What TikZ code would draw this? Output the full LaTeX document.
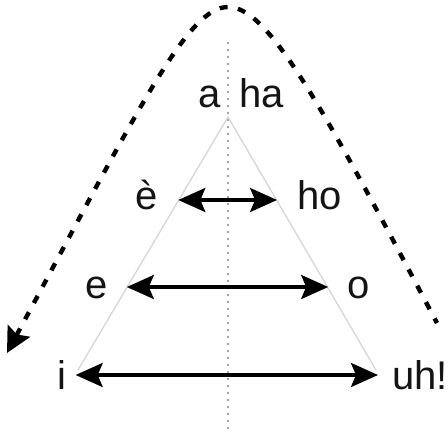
\documentclass[tikz,border=0pt]{standalone}
\usepackage{fontspec}
\setmainfont{Liberation Sans}
\usetikzlibrary{arrows.meta,calc}
\begin{document}
\begin{tikzpicture}[x=1pt,y=-1pt,
  lbl/.style={inner sep=0pt,anchor=base,text=black!92,font=\fontsize{40}{40}\selectfont},
  dbl/.style={line width=3.4pt,{Stealth[length=27pt,width=24pt,inset=5pt]}-{Stealth[length=27pt,width=24pt,inset=5pt]}},
  tri/.style={draw=black!16,line width=1.3pt},
  axis/.style={draw=black!35,line width=2.4pt,dash pattern=on 2.4pt off 4.6pt},
  bigcurve/.style={line width=4.4pt,dash pattern=on 8pt off 10.5pt,{Stealth[length=25pt,width=25pt,inset=4pt]}-}]
\useasboundingbox (0,0) rectangle (448,432);
% axis
\coordinate (axtop) at (228,42);
\coordinate (axbot) at (228,432);
\draw[axis] (axtop) -- (axbot);
% triangle
\coordinate (apex) at (228,117);
\coordinate (bl) at (78,370);
\coordinate (br) at (376,370);
\draw[tri] (bl) -- (apex) -- (br);
% labels
\node[lbl] (a) at (209.5,107) {a};
\node[lbl] (ha) at (261.5,107) {ha};
\node[lbl] (eg) at (147,209) {è};
\node[lbl] (ho) at (319.5,209) {ho};
\node[lbl] (e) at (96.5,298) {e};
\node[lbl] (o) at (358.5,298) {o};
\node[lbl] (i) at (62,389) {i};
\node[lbl,anchor=base west] (uh) at (392,389) {uh!};
% arrows
\draw[dbl] ($(eg.base east)+(20,-9)$) -- ($(ho.base west)+(-20,-9)$);
\draw[dbl] ($(e.base east)+(19,-11)$) -- ($(o.base west)+(-19,-11)$);
\draw[dbl] ($(i.base east)+(9,-14)$) -- ($(uh.base west)+(-14,-14)$);
% big dashed curve
\coordinate (cl) at (7,353);
\coordinate (ctop) at (228,7);
\coordinate (cr) at (437,323);
\draw[bigcurve] (cl) .. controls (141,104) and (188,7) .. (ctop)
  .. controls (268,7) and (319,100) .. (cr);
\end{tikzpicture}
\end{document}
